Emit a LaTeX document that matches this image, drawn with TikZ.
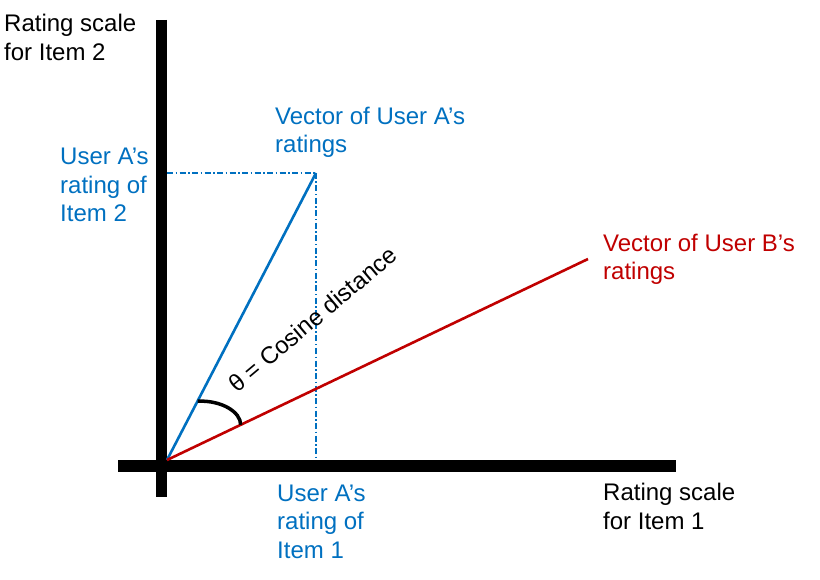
\documentclass[tikz,border=0pt]{standalone}
\usepackage{fontspec}
\setmainfont{Liberation Sans}
\usetikzlibrary{calc}
\colorlet{myblue}{rgb,255:red,0;green,112;blue,192}
\colorlet{myred}{rgb,255:red,192;green,0;blue,0}

\begin{document}
\begin{tikzpicture}[x=1pt,y=-1pt]
\tikzset{label/.style ={inner sep=0, anchor=base west, align=left, font=\fontsize{24}{28.5}\selectfont}}
\tikzset{axis/.style ={line width=11.5pt}}
\tikzset{vector/.style ={line width=2.6pt}}
\tikzset{guide/.style ={line width=1.5pt, color=myblue, dash pattern=on 6pt off 2.5pt on 1.5pt off 2.5pt}}
\useasboundingbox (0,0) rectangle (820,580);
\coordinate (O) at (167,460);
\coordinate (A) at (316,173);
\coordinate (B) at (588,259);
\coordinate (ytop) at (161.5,20);
\coordinate (ybot) at (161.5,497);
\coordinate (xleft) at (118,466);
\coordinate (xright) at (676,466);
\draw[guide] (O |- A) -- (A);
\draw[guide] (A) -- (A |- xleft);
\draw[axis] (ytop) -- (ybot);
\draw[axis] (xleft) -- (xright);
\draw[vector, color=myblue] (O) -- (A);
\draw[vector, color=myred] (O) -- (B);
\coordinate (thA) at ($(O)!0.205!(A)$);
\coordinate (thB) at ($(O)!0.175!(B)$);
\draw[line width=3.5pt] (thA) .. controls ++(24,-1) and ++(0,-13) .. (thB);
\node[label, anchor=base, rotate=40] (theta) at (318,326) {θ = Cosine distance};
\node[label] (yname) at (4,60.5) {Rating scale\\for Item 2};
\node[label] (xname) at (603,529) {Rating scale\\for Item 1};
\node[label, color=myblue] (Aname) at (275,153) {Vector of User A’s\\ratings};
\node[label, color=myred] (Bname) at (603,280) {Vector of User B’s\\ratings};
\node[label, color=myblue] (Ay) at (60,222) {User A’s\\rating of\\Item 2};
\node[label, color=myblue] (Ax) at (277,558) {User A’s\\rating of\\Item 1};
\end{tikzpicture}
\end{document}
